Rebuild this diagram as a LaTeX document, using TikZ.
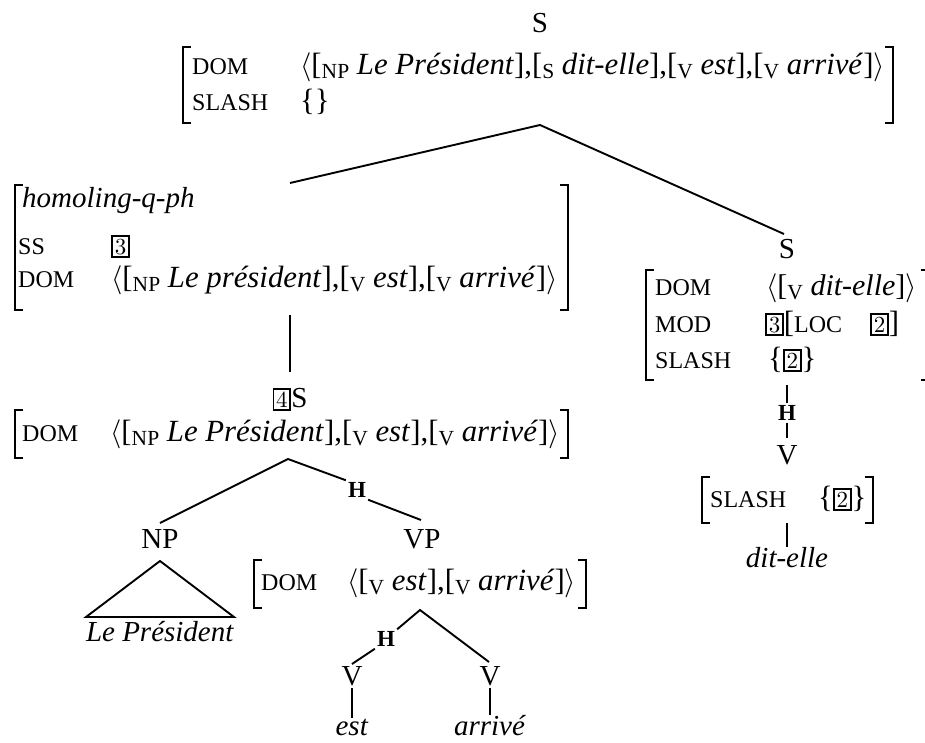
\documentclass[tikz,border=0pt]{standalone}
\usepackage{fontspec}
\usepackage{graphicx}
\setmainfont{Liberation Serif}
\newfontfamily\lmfont{lmroman10-regular.otf}
\newcommand\fsc[1]{{\fontsize{24}{24}\selectfont #1}}
\newcommand\lsub[1]{\raisebox{-4pt}{\fontsize{21.5}{21.5}\selectfont #1}}
\newcommand\tg[1]{{\setlength\fboxsep{1.7pt}\setlength\fboxrule{1.9pt}\fbox{\lmfont\fontsize{23}{23}\selectfont #1}}}
\newcommand\la{\scalebox{2.9}{\fontsize{10}{12}\selectfont$\langle$}}
\newcommand\ra{\scalebox{2.9}{\fontsize{10}{12}\selectfont$\rangle$}}
\newcommand\vf{\fontsize{30.8}{36}\selectfont}
\newcommand\LB[3]{\draw[brk] (#1+8,#2) -- (#1,#2) -- (#1,#3) -- (#1+8,#3);}
\newcommand\RB[3]{\draw[brk] (#1-8,#2) -- (#1,#2) -- (#1,#3) -- (#1-8,#3);}
\begin{document}
\begin{tikzpicture}[x=1pt,y=-1pt,
  every node/.style={inner sep=0pt, font=\fontsize{29}{34}\selectfont},
  tree/.style={line width=1.9pt},
  brk/.style={line width=1.2pt},
  lab/.style={anchor=base west},
  val/.style={anchor=base west, font=\vf},
  cat/.style={anchor=base},
  hd/.style={font=\fontsize{23}{23}\selectfont\bfseries, inner sep=2pt}]
\useasboundingbox (0,0) rectangle (925,742);

% ---- top AVM
\node[cat] (topS) at (540,32) {S};
\node[lab] (tDOMl) at (192,74) {\fsc{DOM}};
\node[val] (tDOMv) at (300,74) {\la[\lsub{NP} \textit{Le Président}],[\lsub{S} \textit{dit-elle}],[\lsub{V} \textit{est}],[\lsub{V} \textit{arrivé}]\ra};
\node[lab] (tSLl) at (192,110) {\fsc{SLASH}};
\node[val] (tSLv) at (300,110) {\{\}};
\LB{183}{47}{123}
\RB{893}{47}{123}

\coordinate (c0) at (540,125);
\coordinate (c1) at (290,183);
\coordinate (c2) at (784,234);
\draw[tree] (c1) -- (c0) -- (c2);

% ---- left AVM
\node[lab] (lHom) at (22,207) {\textit{homoling-q-ph}};
\node[lab] (lSSl) at (18,254) {\fsc{SS}};
\node[val] (lSSv) at (111,254) {\tg{3}};
\node[lab] (lDOMl) at (18,287) {\fsc{DOM}};
\node[val] (lDOMv) at (111,287) {\la[\lsub{NP} \textit{Le président}],[\lsub{V} \textit{est}],[\lsub{V} \textit{arrivé}]\ra};
\LB{15}{185}{310}
\RB{568}{185}{310}

\coordinate (c3) at (290,315);
\coordinate (c4) at (290,372);
\draw[tree] (c3) -- (c4);

% ---- 4S
\node[cat] (s4) at (290,407) {\tg{4}S};
\node[lab] (sDOMl) at (22,441) {\fsc{DOM}};
\node[val] (sDOMv) at (110,441) {\la[\lsub{NP} \textit{Le Président}],[\lsub{V} \textit{est}],[\lsub{V} \textit{arrivé}]\ra};
\LB{15}{410}{458}
\RB{568}{410}{458}

\coordinate (c5) at (288,459);
\coordinate (c6) at (160,523);
\node[hd] (h1) at (357,490) {H};
\coordinate (c7) at (421,520);
\draw[tree] (c6) -- (c5) -- (h1.north west);
\draw[tree] (h1.south east) -- (c7);

\node[cat] (np) at (160,548) {NP};
\node[cat] (vp) at (422,548) {VP};

% triangle
\coordinate (t0) at (160,561);
\coordinate (t1) at (86,617);
\coordinate (t2) at (234,617);
\draw[tree] (t1) -- (t0) -- (t2) -- cycle;
\node[cat] (lp) at (160,641) {\textit{Le Président}};

% VP AVM
\node[lab] (vDOMl) at (261,590) {\fsc{DOM}};
\node[val] (vDOMv) at (347,590) {\la[\lsub{V} \textit{est}],[\lsub{V} \textit{arrivé}]\ra};
\LB{254}{560}{608}
\RB{586}{560}{608}

\coordinate (c8) at (420,610);
\node[hd] (h2) at (386,639) {H};
\coordinate (c9) at (352,664);
\coordinate (c10) at (489,662);
\draw[tree] (c9) -- (h2.south west);
\draw[tree] (h2.north east) -- (c8) -- (c10);

\node[cat] (v1) at (352,685) {V};
\node[cat] (v2) at (490,685) {V};
\node[cat] (est) at (352,735) {\textit{est}};
\node[cat] (arr) at (490,735) {\textit{arrivé}};
\coordinate (v1b) at (352,688);
\coordinate (v2b) at (490,688);
\draw[tree] (v1b) -- (est.north);
\draw[tree] (v2b) -- (arr.north);

% ---- right branch
\node[cat] (rS) at (787,258) {S};
\node[lab] (rDOMl) at (655,295) {\fsc{DOM}};
\node[val, font=\fontsize{30}{36}\selectfont] (rDOMv) at (766,295) {\la[\lsub{V} \textit{dit-elle}]\ra};
\node[lab] (rMODl) at (655,332) {\fsc{MOD}};
\node[val] (rMODv) at (765,332) {\tg{3}[\fsc{LOC}\hspace{28pt}\tg{2}]};
\node[lab] (rSLl) at (655,368) {\fsc{SLASH}};
\node[val] (rSLv) at (768,368) {\{\tg{2}\}};
\LB{646}{270}{380}
\RB{929}{270}{380}

\coordinate (r1) at (787,385);
\node[hd] (h3) at (787,413) {H};
\coordinate (r2) at (787,438);
\draw[tree] (r1) -- (h3.north);
\draw[tree] (h3.south) -- (r2);
\node[cat] (rV) at (787,464) {V};
\node[lab] (vSLl) at (710,507) {\fsc{SLASH}};
\node[val] (vSLv) at (818,507) {\{\tg{2}\}};
\LB{702}{477}{523}
\RB{873}{477}{523}
\coordinate (r3) at (787,523);
\coordinate (r4) at (787,547);
\draw[tree] (r3) -- (r4);
\node[cat] (de) at (787,567) {\textit{dit-elle}};
\end{tikzpicture}
\end{document}
